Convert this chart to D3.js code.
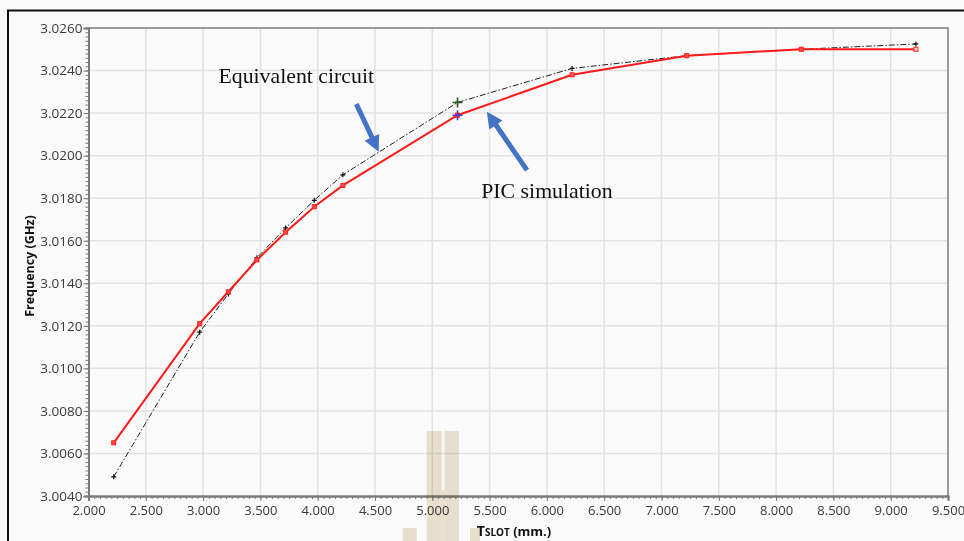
<!DOCTYPE html>
<html>
<head>
<meta charset="utf-8">
<script src="https://cdn.jsdelivr.net/npm/d3@7"></script>
<style>
  html, body { margin: 0; padding: 0; background: #fafafa; }
  svg { display: block; }
</style>
</head>
<body>
<svg id="chart" width="964" height="541"></svg>
<script>
// Slot width (mm) and resonant frequency (GHz)
const slotWidth = [2.22, 2.97, 3.22, 3.47, 3.72, 3.97, 4.22, 5.22, 6.22, 7.22, 8.22, 9.22];
const picFreq = [3.0065, 3.0121, 3.0136, 3.0151, 3.0164, 3.0176, 3.0186, 3.0219, 3.0238, 3.0247, 3.0250, 3.0250];
const circuitFreq = [3.0049, 3.0117, 3.0135, 3.0152, 3.0166, 3.0179, 3.0191, 3.0225, 3.0241, 3.0247, 3.0250, 3.02525];

const xTicks = [2.0, 2.5, 3.0, 3.5, 4.0, 4.5, 5.0, 5.5, 6.0, 6.5, 7.0, 7.5, 8.0, 8.5, 9.0, 9.5];
const yTicks = [3.004, 3.006, 3.008, 3.010, 3.012, 3.014, 3.016, 3.018, 3.020, 3.022, 3.024, 3.026];

// Callout labels with arrows (data coordinates)
const labels = [
  { text: "Equivalent circuit", x: 3.134, y: 3.02341 },
  { text: "PIC simulation", x: 5.427, y: 3.01801 }
];
const arrows = [
  { x0: 4.337, y0: 3.02243, x1: 4.532, y1: 3.02018 },
  { x0: 5.826, y0: 3.01932, x1: 5.476, y1: 3.02206 }
];

const svg = d3.select("#chart");
const W = 964, H = 541;
const m = { left: 88.5, right: 948, top: 28, bottom: 496 };

const x = d3.scaleLinear().domain([2.0, 9.5]).range([m.left, m.right]);
const y = d3.scaleLinear().domain([3.004, 3.026]).range([m.bottom, m.top]);

svg.append("rect").attr("width", W).attr("height", H).attr("fill", "#fafafa");

// outer frame (top and left edges)
svg.append("line").attr("x1", 7).attr("x2", W).attr("y1", 10.5).attr("y2", 10.5)
  .attr("stroke", "#111").attr("stroke-width", 2);
svg.append("line").attr("x1", 8).attr("x2", 8).attr("y1", 10).attr("y2", H)
  .attr("stroke", "#111").attr("stroke-width", 2);

// grid
const grid = svg.append("g");
grid.selectAll("line.vx").data(xTicks.slice(1, -1)).join("line")
  .attr("x1", d => x(d)).attr("x2", d => x(d))
  .attr("y1", m.top).attr("y2", m.bottom)
  .attr("stroke", "#e2e2e2").attr("stroke-width", 1.5);
grid.selectAll("line.hy").data(yTicks.slice(1, -1)).join("line")
  .attr("x1", m.left).attr("x2", m.right)
  .attr("y1", d => y(d)).attr("y2", d => y(d))
  .attr("stroke", "#e2e2e2").attr("stroke-width", 1.5);

// top and right frame of plot area
svg.append("path")
  .attr("d", `M${m.left},${m.top}H${m.right}V${m.bottom}`)
  .attr("fill", "none").attr("stroke", "#9a9a9a").attr("stroke-width", 2);

// axes
const fmt = d3.format(".3f");
const xAxis = svg.append("g").attr("transform", `translate(0,${m.bottom})`);
xAxis.call(d3.axisBottom(x).tickValues(d3.range(2.0, 9.5001, 0.05)).tickSize(3).tickFormat(""));
xAxis.append("g").call(d3.axisBottom(x).tickValues(xTicks).tickSize(5).tickFormat(fmt));
xAxis.selectAll("path.domain").attr("stroke", "#7a7a7a").attr("stroke-width", 2);
xAxis.selectAll(".tick line").attr("stroke", "#7a7a7a");
xAxis.selectAll("text").attr("font-family", "'Open Sans', sans-serif").attr("font-size", 13)
  .attr("fill", "#3a3a3a").attr("dy", "0.85em");

const yAxis = svg.append("g").attr("transform", `translate(${m.left},0)`);
yAxis.call(d3.axisLeft(y).tickValues(d3.range(3.004, 3.02601, 0.0002)).tickSize(3).tickFormat(""));
yAxis.append("g").call(d3.axisLeft(y).tickValues(yTicks).tickSize(5).tickFormat(d3.format(".4f")));
yAxis.selectAll("path.domain").attr("stroke", "#7a7a7a").attr("stroke-width", 2);
yAxis.selectAll(".tick line").attr("stroke", "#7a7a7a");
yAxis.selectAll("text").attr("font-family", "'Open Sans', sans-serif").attr("font-size", 13.5)
  .attr("fill", "#3a3a3a").attr("x", -6);

// watermark emblem
const wm = svg.append("g").attr("fill", "#ece3d1")
  .style("mix-blend-mode", "multiply");
wm.append("rect").attr("x", 426.7).attr("y", 431).attr("width", 15).attr("height", 110);
wm.append("rect").attr("x", 444.5).attr("y", 431).attr("width", 14.5).attr("height", 110);
wm.append("rect").attr("x", 441.7).attr("y", 490).attr("width", 2.8).attr("height", 51);
wm.append("rect").attr("x", 402.7).attr("y", 528).attr("width", 14).attr("height", 13);
wm.append("rect").attr("x", 470).attr("y", 528).attr("width", 10).attr("height", 13);

// axis titles
svg.append("text")
  .attr("transform", `translate(34,${(m.top + m.bottom) / 2 + 4}) rotate(-90)`)
  .attr("text-anchor", "middle")
  .attr("font-family", "'Open Sans', sans-serif").attr("font-weight", "bold").attr("font-size", 12.5)
  .attr("fill", "#111").text("Frequency (GHz)");

const xt = svg.append("text")
  .attr("x", 514).attr("y", 536).attr("text-anchor", "middle")
  .attr("font-family", "'Open Sans', sans-serif").attr("font-weight", "bold").attr("fill", "#111");
xt.append("tspan").attr("font-size", 14).text("T");
xt.append("tspan").attr("font-size", 10).text("SLOT");
xt.append("tspan").attr("font-size", 13).text(" (mm.)");

// series
const line = d3.line().x(d => x(d[0])).y(d => y(d[1]));
const circuitPts = slotWidth.map((v, i) => [v, circuitFreq[i]]);
const picPts = slotWidth.map((v, i) => [v, picFreq[i]]);

svg.append("path").datum(circuitPts).attr("d", line)
  .attr("fill", "none").attr("stroke", "#222").attr("stroke-width", 1)
  .attr("stroke-dasharray", "6,2,1.5,2");
svg.selectAll("path.cm").data(circuitPts).join("path")
  .attr("d", d => `M${x(d[0]) - 2.5},${y(d[1])}h5M${x(d[0])},${y(d[1]) - 2.5}v5`)
  .attr("stroke", "#111").attr("stroke-width", 1.2);

svg.append("path").datum(picPts).attr("d", line)
  .attr("fill", "none").attr("stroke", "#ff1a1a").attr("stroke-width", 2);
svg.selectAll("rect.pm").data(picPts).join("rect")
  .attr("x", d => x(d[0]) - 2).attr("y", d => y(d[1]) - 2)
  .attr("width", 4).attr("height", 4)
  .attr("fill", (d, i) => i === picPts.length - 1 ? "#ffd0d0" : "#ff4d4d")
  .attr("stroke", "#ff2020").attr("stroke-width", 1);

// cursor crosses at 5.22 mm
const cursors = [
  { v: circuitFreq[7], color: "#2d5a1e" },
  { v: picFreq[7], color: "#5533cc" }
];
svg.selectAll("path.cur").data(cursors).join("path")
  .attr("d", d => `M${x(slotWidth[7]) - 5},${y(d.v)}h10M${x(slotWidth[7])},${y(d.v) - 5}v10`)
  .attr("stroke", d => d.color).attr("stroke-width", 1.6);

// callouts
svg.selectAll("text.lab").data(labels).join("text")
  .attr("x", d => x(d.x)).attr("y", d => y(d.y))
  .attr("font-family", "'Liberation Serif', 'Times New Roman', serif").attr("font-size", 21.8)
  .attr("fill", "#111").text(d => d.text);

function arrowPath(a) {
  const X0 = x(a.x0), Y0 = y(a.y0), X1 = x(a.x1), Y1 = y(a.y1);
  const dx = X1 - X0, dy = Y1 - Y0, L = Math.hypot(dx, dy);
  const ux = dx / L, uy = dy / L, px = -uy, py = ux;
  const sw = 2.5, hw = 8, hl = 16;
  const bx = X1 - ux * hl, by = Y1 - uy * hl;
  const pts = [
    [X0 + px * sw, Y0 + py * sw], [bx + px * sw, by + py * sw], [bx + px * hw, by + py * hw],
    [X1, Y1], [bx - px * hw, by - py * hw], [bx - px * sw, by - py * sw], [X0 - px * sw, Y0 - py * sw]
  ];
  return "M" + pts.map(p => p.join(",")).join("L") + "Z";
}
svg.selectAll("path.arr").data(arrows).join("path")
  .attr("d", arrowPath).attr("fill", "#4472c4");
</script>
</body>
</html>
